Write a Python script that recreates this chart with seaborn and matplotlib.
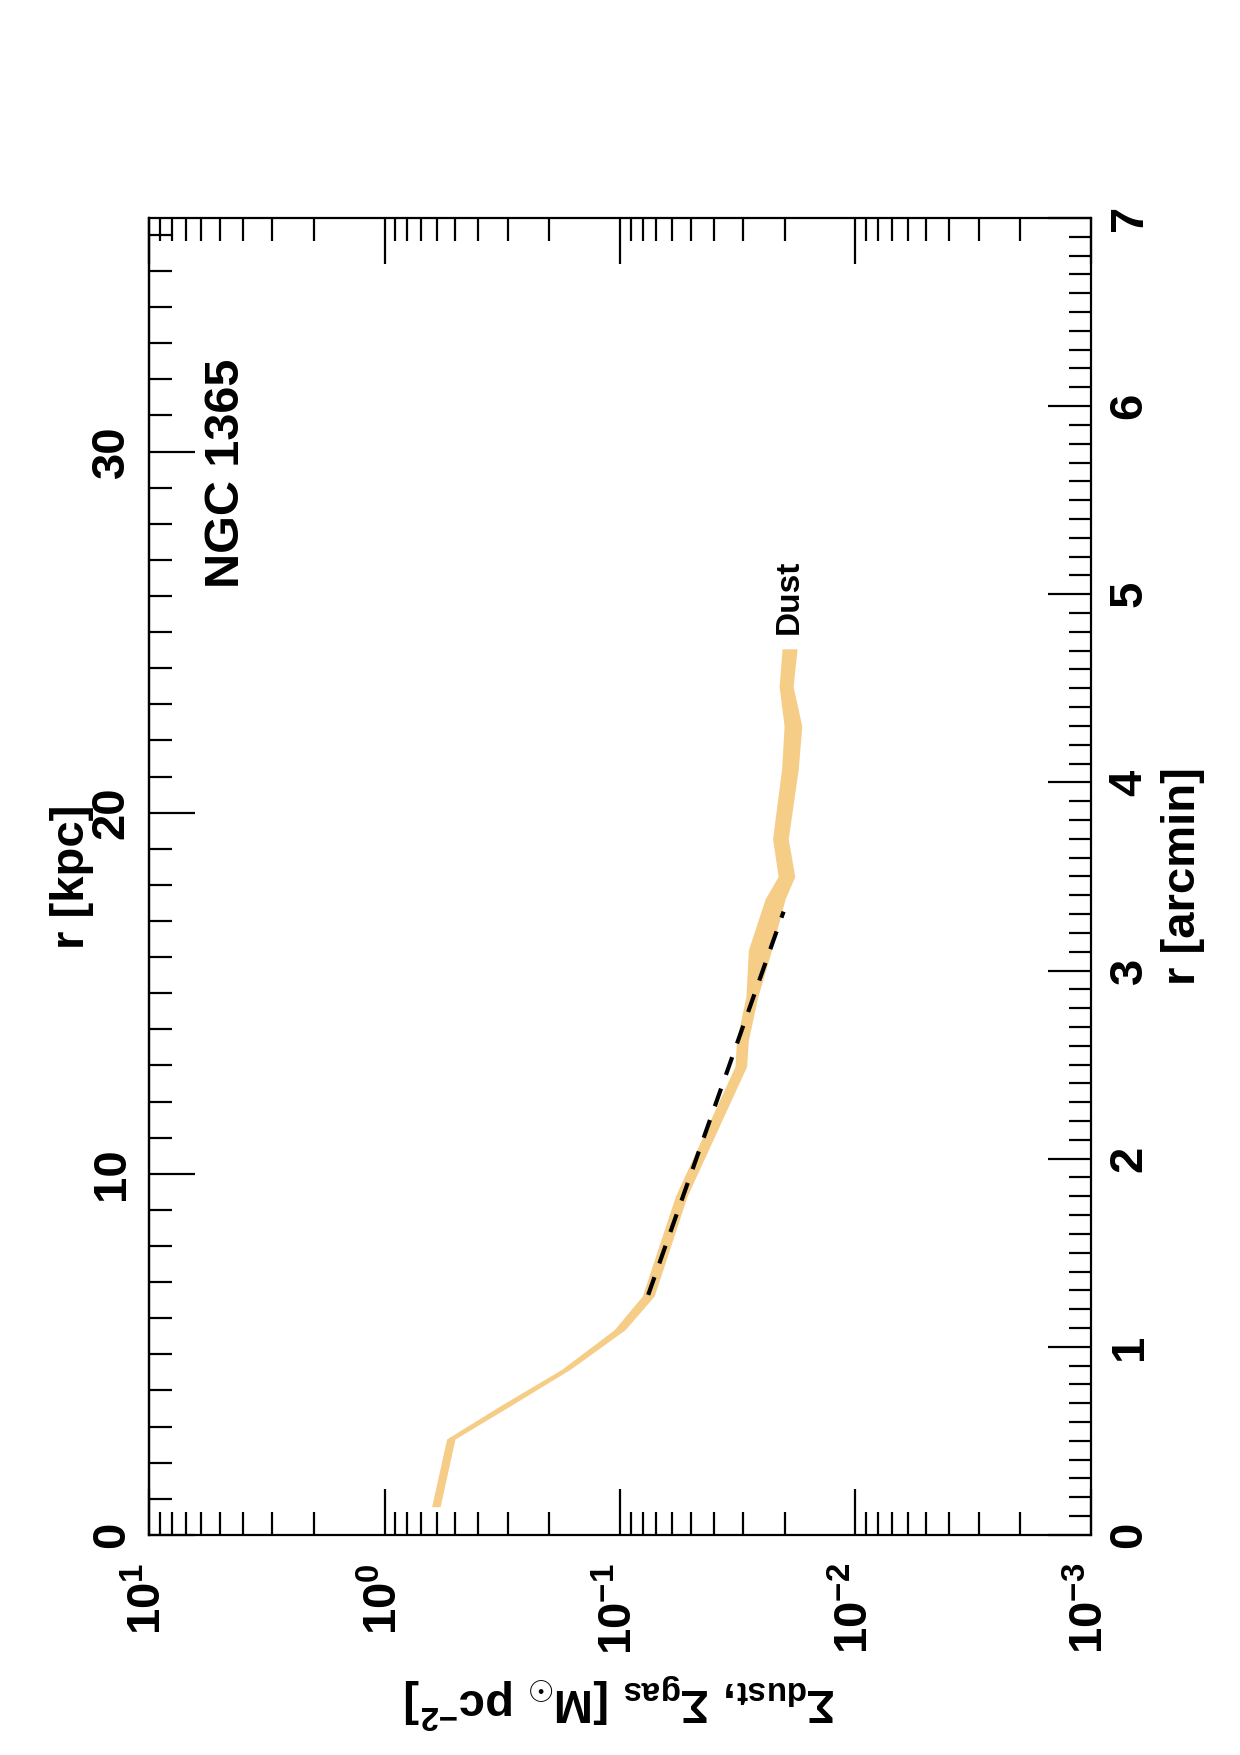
import numpy as np
import pandas as pd
import matplotlib
matplotlib.use("Agg")
import matplotlib.pyplot as plt
import seaborn as sns
from matplotlib.ticker import FixedLocator, FixedFormatter, LogLocator, MultipleLocator, NullFormatter

# ---------------- data ----------------
# radius [arcmin] of the band vertices
dust_r = [0.15, 0.51, 0.68, 0.88, 1.09, 1.27, 1.80, 2.49, 2.63, 2.86, 3.11,
          3.38, 3.50, 3.70, 4.07, 4.30, 4.51, 4.71]
# lower / upper edge of the dust surface density band [Msun pc^-2]
dust_lo = [0.581, 0.502, 0.298, 0.163, 0.0953, 0.0716, 0.0519, 0.0290, 0.0285,
           0.0260, 0.0227, 0.0199, 0.0181, 0.0193, 0.0175, 0.0169, 0.0184, 0.0177]
dust_hi = [0.631, 0.545, 0.329, 0.177, 0.106, 0.0804, 0.0582, 0.0325, 0.0320,
           0.0292, 0.0285, 0.0242, 0.0213, 0.0225, 0.0206, 0.0201, 0.0211, 0.0205]
# exponential fit (dashed)
fit_r = [1.276, 3.313]
fit_sigma = [0.0759, 0.0202]

sigma_ticks = [10, 1, 0.1, 0.01, 0.001]
sigma_labels = [r"$\mathregular{10^{1}}$", r"$\mathregular{10^{0}}$", r"$\mathregular{10^{-1}}$",
                r"$\mathregular{10^{-2}}$", r"$\mathregular{10^{-3}}$"]
arcmin_ticks = [0, 1, 2, 3, 4, 5, 6, 7]
arcmin_labels = ["0", "1", "2", "3", "4", "5", "6", "7"]
kpc_ticks = [0, 10, 20, 30]
kpc_labels = ["0", "10", "20", "30"]
kpc_per_arcmin = 5.21

band_color = "#F6CD86"

# ---------------- style ----------------
sns.set_theme(style="white")
plt.rcParams["font.family"] = ["Liberation Sans", "DejaVu Sans"]
plt.rcParams["font.weight"] = "bold"
plt.rcParams["mathtext.fontset"] = "custom"
plt.rcParams["mathtext.rm"] = "Liberation Sans:bold"
plt.rcParams["mathtext.it"] = "Liberation Sans:bold"
plt.rcParams["mathtext.bf"] = "Liberation Sans:bold"
plt.rcParams["mathtext.sf"] = "Liberation Sans:bold"
plt.rcParams["axes.unicode_minus"] = False

fig = plt.figure(figsize=(12.4, 17.55), dpi=100)
fig.patch.set_facecolor("white")
ax = fig.add_axes([0.1202, 0.1254, 0.7596, 0.7504])
ax.set_facecolor("white")
ax.set_xscale("log")

# band drawn through seaborn's interval (min-max of the two edges)
df = pd.DataFrame({
    "r": list(dust_r) + list(dust_r),
    "sigma": list(dust_lo) + list(dust_hi),
})
sns.lineplot(data=df, x="sigma", y="r", orient="y", estimator="mean",
             errorbar=("pi", 100), color=band_color, linewidth=0,
             err_kws={"alpha": 1, "linewidth": 0}, ax=ax)

fit_df = pd.DataFrame({"r": fit_r, "sigma": fit_sigma})
sns.lineplot(data=fit_df, x="sigma", y="r", orient="y", color="black",
             linewidth=3, dashes=False, ax=ax)
ax.lines[-1].set_dashes((4.5, 3.5))

ax.set_xlim(10, 1e-3)
ax.set_ylim(0, 7)

# spines
for s in ax.spines.values():
    s.set_color("black")
    s.set_linewidth(1.6)
    s.set_visible(True)

tick_fs = 34
# x (log sigma) axis: bottom + top
ax.xaxis.set_major_locator(FixedLocator(sigma_ticks))
ax.xaxis.set_major_formatter(FixedFormatter(sigma_labels))
ax.xaxis.set_minor_locator(LogLocator(base=10, subs=np.arange(2, 10), numticks=20))
ax.xaxis.set_minor_formatter(NullFormatter())
ax.tick_params(axis="x", which="both", direction="in", bottom=True, top=True,
               labelbottom=True, labeltop=False, colors="black", width=1.6)
ax.tick_params(axis="x", which="major", length=33, pad=20, labelsize=tick_fs, labelrotation=90)
ax.tick_params(axis="x", which="minor", length=16.5)

# y (arcmin) axis on right
ax.yaxis.tick_right()
ax.yaxis.set_major_locator(FixedLocator(arcmin_ticks))
ax.yaxis.set_major_formatter(FixedFormatter(arcmin_labels))
ax.yaxis.set_minor_locator(MultipleLocator(0.1))
ax.tick_params(axis="y", which="both", direction="in", left=False, right=True,
               labelleft=False, labelright=True, colors="black", width=1.6)
ax.tick_params(axis="y", which="major", length=31, pad=12, labelsize=tick_fs, labelrotation=90)
ax.tick_params(axis="y", which="minor", length=16)
for lab in ax.get_yticklabels():
    lab.set_va("center")

# secondary kpc axis on the left
sec = ax.secondary_yaxis("left", functions=(lambda r: r * kpc_per_arcmin,
                                            lambda k: k / kpc_per_arcmin))
sec.yaxis.set_major_locator(FixedLocator(kpc_ticks))
sec.yaxis.set_major_formatter(FixedFormatter(kpc_labels))
sec.yaxis.set_minor_locator(MultipleLocator(1))
sec.tick_params(axis="y", which="both", direction="in", colors="black", width=1.6)
sec.tick_params(axis="y", which="major", length=33, pad=11, labelsize=tick_fs, labelrotation=90)
sec.tick_params(axis="y", which="minor", length=16.5)
for s in sec.spines.values():
    s.set_color("black")
    s.set_linewidth(1.6)
for lab in sec.get_yticklabels():
    lab.set_va("center")

# axis labels
lab_fs = 34
ax.set_xlabel(r"$\Sigma_{dust}$, $\Sigma_{gas}$ [M$_{\odot}$ pc$^{-2}$]",
              fontsize=lab_fs, fontweight="bold", color="black")
ax.xaxis.label.set(rotation=180, rotation_mode="default", ha="center", va="center")
ax.xaxis.set_label_coords(0.5, -0.126)

ax.yaxis.set_label_position("right")
ax.set_ylabel("r [arcmin]", fontsize=lab_fs, fontweight="bold", color="black")
ax.yaxis.label.set(rotation=90, rotation_mode="default", ha="center", va="center")
ax.yaxis.set_label_coords(1.0977, 0.5)

sec.set_ylabel("r [kpc]", fontsize=lab_fs, fontweight="bold", color="black")
sec.yaxis.label.set(rotation=90, rotation_mode="default", ha="center", va="center")
sec.yaxis.set_label_coords(-0.0817, 0.5, transform=ax.transAxes)

# annotations
ax.text(0.0817, 0.806, "NGC 1365", transform=ax.transAxes, rotation=90,
        ha="center", va="center", fontsize=35, fontweight="bold", color="black")
ax.text(0.680, 0.712, "Dust", transform=ax.transAxes, rotation=90,
        ha="center", va="center", fontsize=24, fontweight="bold", color="black")

legend = ax.get_legend()
if legend is not None:
    legend.remove()

fig.savefig("out.png", dpi=100, facecolor="white")
